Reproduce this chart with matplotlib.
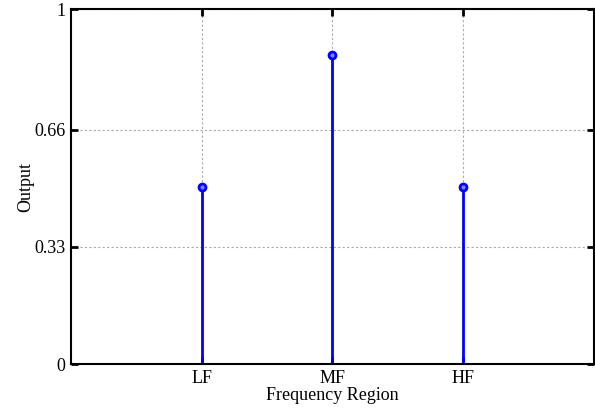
import numpy as np
import matplotlib.pyplot as plt

plt.rcParams['font.family'] = ['Liberation Serif', 'DejaVu Serif']

# data
regions = ['LF', 'MF', 'HF']
positions = [1, 2, 3]
output = [0.5, 0.87, 0.5]
yticks = [0, 0.33, 0.66, 1]

fig = plt.figure(figsize=(5.95, 4.11), dpi=100)
ax = fig.add_axes([0.119, 0.114, 0.879, 0.864])

ml, sl, bl = ax.stem(positions, output, basefmt=' ')
plt.setp(sl, color='#0000ff', linewidth=2)
plt.setp(ml, color='#0000ff', markersize=5, markerfacecolor='#8080ff', markeredgewidth=2)

ax.set_xlim(0, 4)
ax.set_ylim(0, 1)
ax.set_xticks(positions)
ax.set_xticklabels(regions)
ax.set_yticks(yticks)
ax.set_yticklabels(['0', '0.33', '0.66', '1'])
ax.grid(True, color='#aaaaaa', linestyle=(0, (2, 2)), linewidth=0.8)
ax.set_axisbelow(True)
ax.tick_params(direction='in', top=True, right=True, labelsize=13, width=2, length=5, pad=4)
for s in ax.spines.values():
    s.set_linewidth(1.5)
ax.set_xlabel('Frequency Region', fontsize=13, labelpad=0)
ax.set_ylabel('Output', fontsize=13, labelpad=0)

plt.savefig('out.png', dpi=100)
